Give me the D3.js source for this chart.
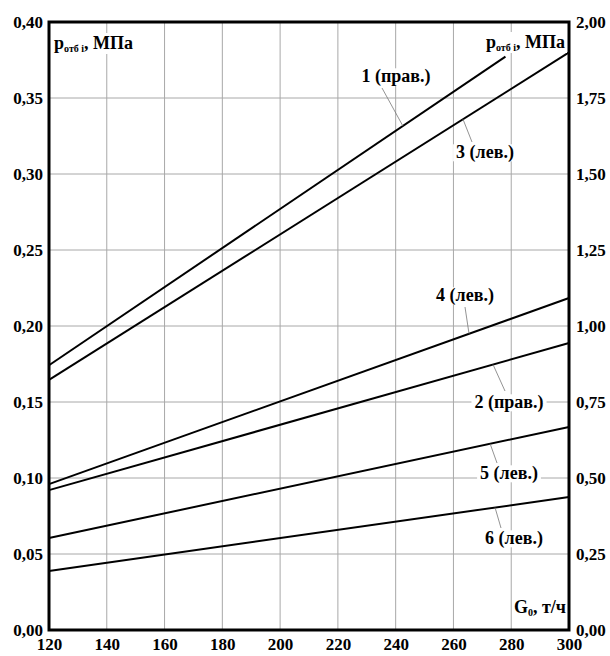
<!DOCTYPE html>
<html>
<head>
<meta charset="utf-8">
<script src="https://cdn.jsdelivr.net/npm/d3@7"></script>
<style>
  body { margin: 0; background: #fff; }
  svg { display: block; }
</style>
</head>
<body>
<script>
// ---- data ----
var gTicks = [120, 140, 160, 180, 200, 220, 240, 260, 280, 300];
var leftTicks = [0, 0.05, 0.10, 0.15, 0.20, 0.25, 0.30, 0.35, 0.40];
var rightTicks = [0, 0.25, 0.50, 0.75, 1.00, 1.25, 1.50, 1.75, 2.00];

var seriesNames = ["1 (прав.)", "2 (прав.)", "3 (лев.)", "4 (лев.)", "5 (лев.)", "6 (лев.)"];
var seriesAxis = ["right", "right", "left", "left", "left", "left"];
// G0 end points of each line, t/h
var seriesG = [[120, 278], [120, 300], [120, 300], [120, 300], [120, 300], [120, 300]];
// pressure at those points, MPa (on the axis named above)
var seriesP = [
  [0.871, 1.886],
  [0.460, 0.944],
  [0.1645, 0.380],
  [0.096, 0.2184],
  [0.0605, 0.1336],
  [0.0388, 0.0875]
];

// where each label sits (G on the line where the leader starts, text centre, leader end)
var labelPos = [
  {g: 242.5, tx: 396, ty: 76, lx: 382, ly: 88},
  {g: 273.7, tx: 509, ty: 402, lx: 505, ly: 391},
  {g: 263.3, tx: 485, ty: 152, lx: 472, ly: 142},
  {g: 265.4, tx: 465, ty: 295, lx: 465, ly: 307},
  {g: 272.7, tx: 509, ty: 473, lx: 497, ly: 463},
  {g: 274.4, tx: 514, ty: 538, lx: 501, ly: 528}
];

var W = 610, H = 656;
var margin = {top: 22, right: 41, bottom: 26, left: 49};
var FONT = "'Liberation Serif', 'Times New Roman', serif";

var svg = d3.select("body").append("svg")
  .attr("width", W)
  .attr("height", H);

var xScale = d3.scaleLinear().domain([120, 300]).range([margin.left, W - margin.right]);
var yLeft = d3.scaleLinear().domain([0, 0.40]).range([H - margin.bottom, margin.top]);
var yRight = d3.scaleLinear().domain([0, 2.00]).range([H - margin.bottom, margin.top]);

var ru = d3.formatLocale({decimal: ",", thousands: " ", grouping: [3], currency: ["", ""]});
var fmt = ru.format(".2f");

// grid
svg.append("g").selectAll("line")
  .data(gTicks.slice(1, -1))
  .enter().append("line")
  .attr("x1", function (d) { return xScale(d); })
  .attr("x2", function (d) { return xScale(d); })
  .attr("y1", yLeft(0))
  .attr("y2", yLeft(0.40))
  .attr("stroke", "#a8a8a8")
  .attr("stroke-width", 1);

svg.append("g").selectAll("line")
  .data(leftTicks.slice(1, -1))
  .enter().append("line")
  .attr("x1", xScale(120))
  .attr("x2", xScale(300))
  .attr("y1", function (d) { return yLeft(d); })
  .attr("y2", function (d) { return yLeft(d); })
  .attr("stroke", "#a8a8a8")
  .attr("stroke-width", 1);

// lines
var line = d3.line();
seriesNames.forEach(function (name, i) {
  var ys = seriesAxis[i] == "right" ? yRight : yLeft;
  var pts = seriesG[i].map(function (g, j) { return [xScale(g), ys(seriesP[i][j])]; });
  svg.append("path")
    .attr("d", line(pts))
    .attr("fill", "none")
    .attr("stroke", "#000")
    .attr("stroke-width", 2);
});

// labels with leaders
seriesNames.forEach(function (name, i) {
  var ys = seriesAxis[i] == "right" ? yRight : yLeft;
  var p = labelPos[i];
  var t = (p.g - seriesG[i][0]) / (seriesG[i][1] - seriesG[i][0]);
  var pv = seriesP[i][0] + t * (seriesP[i][1] - seriesP[i][0]);
  svg.append("line")
    .attr("x1", xScale(p.g)).attr("y1", ys(pv))
    .attr("x2", p.lx).attr("y2", p.ly)
    .attr("stroke", "#777")
    .attr("stroke-width", 0.8);
  var g = svg.append("g");
  var bg = g.append("rect").attr("fill", "#fff");
  var txt = g.append("text")
    .attr("x", p.tx)
    .attr("y", p.ty)
    .attr("dy", "0.35em")
    .attr("text-anchor", "middle")
    .attr("font-family", FONT)
    .attr("font-weight", "bold")
    .attr("font-size", "18px")
    .text(name);
  var bb = txt.node().getBBox();
  bg.attr("x", bb.x - 3).attr("y", bb.y + 2).attr("width", bb.width + 6).attr("height", bb.height - 4);
});

// axis titles
function pressureTitle(x, y, anchor) {
  var g = svg.append("g");
  var bg = g.append("rect").attr("fill", "#fff");
  var t = g.append("text")
    .attr("x", x).attr("y", y)
    .attr("text-anchor", anchor)
    .attr("font-family", FONT)
    .attr("font-weight", "bold")
    .attr("font-size", "18px");
  t.append("tspan").text("p");
  t.append("tspan").attr("font-size", "10px").attr("dy", "3").text("отб i");
  t.append("tspan").attr("dy", "-3").text(", МПа");
  var bb = t.node().getBBox();
  bg.attr("x", bb.x - 2).attr("y", bb.y).attr("width", bb.width + 4).attr("height", bb.height);
}
pressureTitle(54, 49, "start");
pressureTitle(565, 48, "end");

var gt = svg.append("text")
  .attr("x", 566).attr("y", 613)
  .attr("text-anchor", "end")
  .attr("font-family", FONT)
  .attr("font-weight", "bold")
  .attr("font-size", "18px");
gt.append("tspan").text("G");
gt.append("tspan").attr("font-size", "10px").attr("dy", "3").text("0");
gt.append("tspan").attr("dy", "-3").text(", т/ч");

// axes (labels only)
var axL = svg.append("g")
  .attr("transform", "translate(" + margin.left + ",0)")
  .call(d3.axisLeft(yLeft).tickValues(leftTicks).tickFormat(fmt).tickSize(0).tickPadding(6));
var axR = svg.append("g")
  .attr("transform", "translate(" + (W - margin.right) + ",0)")
  .call(d3.axisRight(yRight).tickValues(rightTicks).tickFormat(fmt).tickSize(0).tickPadding(7));
var axB = svg.append("g")
  .attr("transform", "translate(0," + (H - margin.bottom) + ")")
  .call(d3.axisBottom(xScale).tickValues(gTicks).tickFormat(d3.format("d")).tickSize(0).tickPadding(8));

[axL, axR, axB].forEach(function (ax) {
  ax.select(".domain").remove();
  ax.selectAll("text")
    .attr("font-family", FONT)
    .attr("font-weight", "bold")
    .attr("font-size", "17px")
    .attr("fill", "#000");
});

// frame
svg.append("rect")
  .attr("x", xScale(120))
  .attr("y", yLeft(0.40))
  .attr("width", xScale(300) - xScale(120))
  .attr("height", yLeft(0) - yLeft(0.40))
  .attr("fill", "none")
  .attr("stroke", "#000")
  .attr("stroke-width", 3);
</script>
</body>
</html>
